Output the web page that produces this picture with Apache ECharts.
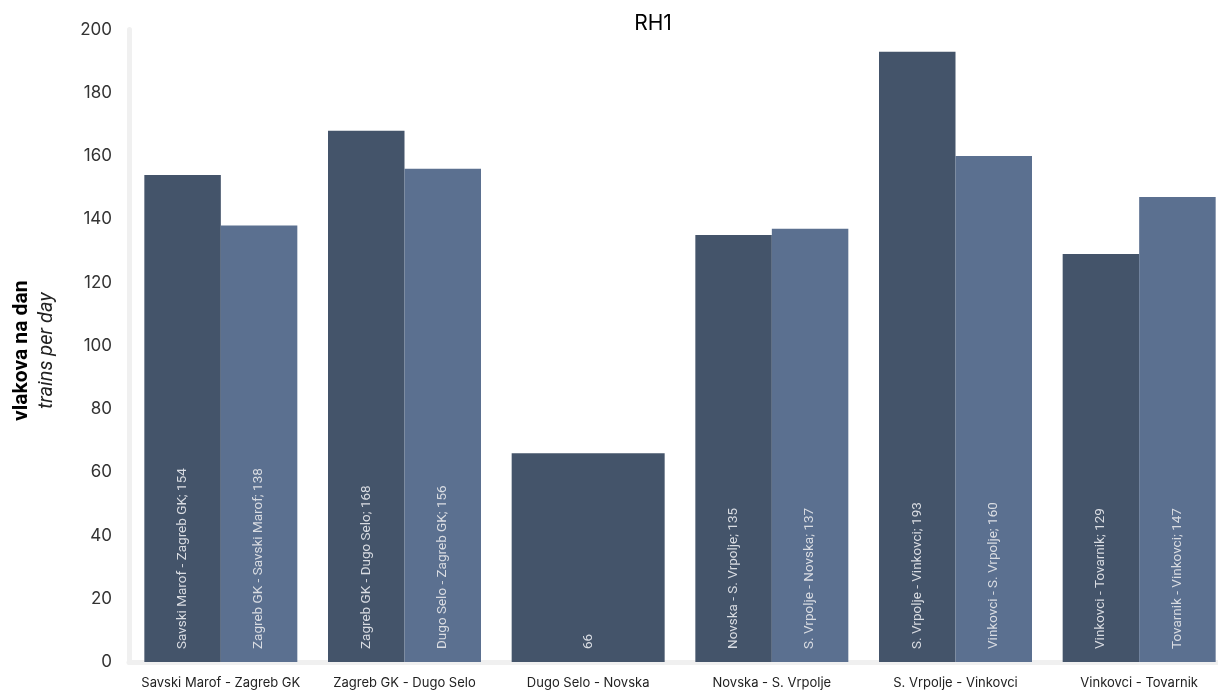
<!DOCTYPE html>
<html><head><meta charset="utf-8">
<script src="https://cdn.jsdelivr.net/npm/echarts@6/dist/echarts.min.js"></script>
<style>html,body{margin:0;padding:0;background:#fff}#c{width:1218px;height:693px}</style>
</head><body><div id="c"></div>
<script>
const categories = ['Savski Marof - Zagreb GK','Zagreb GK - Dugo Selo','Dugo Selo - Novska','Novska - S. Vrpolje','S. Vrpolje - Vinkovci','Vinkovci - Tovarnik'];
const dirANames = ['Savski Marof - Zagreb GK','Zagreb GK - Dugo Selo',null,'Novska - S. Vrpolje','S. Vrpolje - Vinkovci','Vinkovci - Tovarnik'];
const dirBNames = ['Zagreb GK - Savski Marof','Dugo Selo - Zagreb GK',null,'S. Vrpolje - Novska','Vinkovci - S. Vrpolje','Tovarnik - Vinkovci'];
const dirAValues = [154,168,null,135,193,129];
const dirBValues = [138,156,null,137,160,147];
const singleValues = [null,null,66,null,null,null];
const yTicks = [0,20,40,60,80,100,120,140,160,180,200];

const FONT = 'Inter, "Open Sans", sans-serif';
const labelBase = {show:true, position:'insideBottom', rotate:90, align:'left', verticalAlign:'middle', distance:13, color:'#d9dce2', fontSize:13.5, fontFamily:'Roboto, sans-serif'};

const chart = echarts.init(document.getElementById('c'));
chart.setOption({
  animation:false,
  title:{text:'RH1', left:648, top:8, textAlign:'center', textStyle:{fontSize:21, fontWeight:'normal', color:'#000', fontFamily:FONT}},
  grid:{left:129, right:-13, top:29.5, bottom:31, containLabel:false, outerBoundsMode:'none'},
  xAxis:[
    {type:'category', data:categories, axisTick:{show:false}, axisLine:{show:true, lineStyle:{color:'#f0f0f0', width:5}},
     axisLabel:{color:'#222', fontSize:13, margin:15, fontFamily:FONT, interval:0}},
    {type:'category', data:categories, show:false}
  ],
  yAxis:{type:'value', min:yTicks[0], max:yTicks[yTicks.length-1], interval:20,
    splitLine:{show:false}, axisLine:{show:true, lineStyle:{color:'#f0f0f0', width:5}}, axisTick:{show:false},
    axisLabel:{color:'#333', fontSize:17, margin:17, fontFamily:FONT},
    name:'{a|vlakova na dan}\n{b|trains per day}', nameLocation:'middle', nameRotate:90, nameGap:70,
    nameTextStyle:{padding:[0,10,0,0], rich:{a:{fontSize:21, fontWeight:'bold', color:'#000', fontFamily:'Roboto, sans-serif', lineHeight:25},
                         b:{fontSize:20, fontStyle:'italic', color:'#222', fontFamily:'Roboto, sans-serif', lineHeight:25}}}
  },
  series:[
    {type:'bar', name:'A', data:dirAValues, xAxisIndex:0, barGap:'0%', barCategoryGap:'16.7%',
     itemStyle:{color:'#44546a'},
     label:Object.assign({}, labelBase, {formatter:p=>dirANames[p.dataIndex]+'; '+p.value})},
    {type:'bar', name:'B', data:dirBValues, xAxisIndex:0, barGap:'0%', barCategoryGap:'16.7%',
     itemStyle:{color:'#5b7090'},
     label:Object.assign({}, labelBase, {formatter:p=>dirBNames[p.dataIndex]+'; '+p.value})},
    {type:'bar', name:'C', data:singleValues, xAxisIndex:1, barCategoryGap:'16.7%',
     itemStyle:{color:'#44546a'},
     label:Object.assign({}, labelBase, {formatter:p=>String(p.value)})}
  ]
});
</script></body></html>
